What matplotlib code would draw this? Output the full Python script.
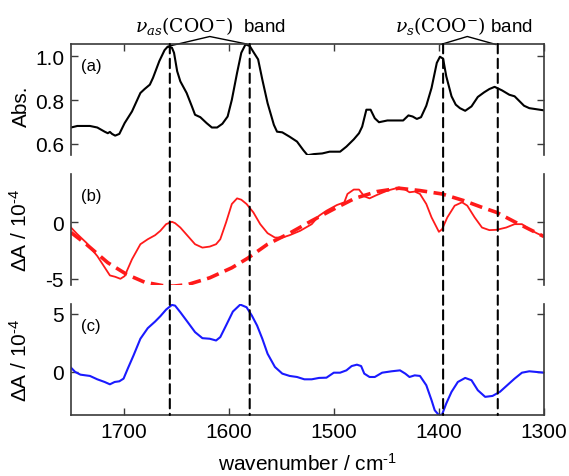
import matplotlib
matplotlib.use("Agg")
import matplotlib.pyplot as plt
from matplotlib.patches import ConnectionPatch

plt.rcParams['font.family'] = ['Liberation Sans', 'DejaVu Sans']
plt.rcParams['mathtext.fontset'] = 'custom'
plt.rcParams['mathtext.rm'] = 'Liberation Sans'
plt.rcParams['mathtext.it'] = 'Liberation Sans:italic'
plt.rcParams['mathtext.bf'] = 'Liberation Sans:bold'

# (a) absorbance spectrum
wn_a = [1750, 1744, 1732, 1725, 1718, 1715, 1713, 1711, 1708, 1704, 1699, 1692, 1684, 1680,
        1675, 1672, 1666, 1661, 1658, 1654, 1652, 1649, 1646, 1640, 1635, 1632, 1627, 1621,
        1616, 1611, 1606, 1601, 1597, 1592, 1588, 1584, 1580, 1576, 1572, 1568, 1563, 1557,
        1554, 1549, 1542, 1535, 1529, 1525, 1519, 1511, 1504, 1499, 1494, 1488, 1481, 1476,
        1473, 1469, 1465, 1461, 1457, 1449, 1438, 1434, 1429, 1425, 1421, 1417, 1412, 1407,
        1402, 1399, 1396, 1393, 1388, 1384, 1380, 1375, 1369, 1363, 1357, 1352, 1347, 1340,
        1333, 1328, 1319, 1314, 1300]
abs_a = [0.675, 0.682, 0.682, 0.675, 0.656, 0.649, 0.655, 0.646, 0.638, 0.646, 0.695, 0.748,
         0.832, 0.850, 0.870, 0.901, 0.977, 1.027, 1.043, 1.038, 1.015, 0.931, 0.885, 0.832,
         0.771, 0.733, 0.722, 0.695, 0.675, 0.675, 0.692, 0.725, 0.801, 0.924, 1.015, 1.053,
         1.046, 1.015, 0.985, 0.893, 0.786, 0.687, 0.656, 0.653, 0.633, 0.611, 0.572, 0.549,
         0.554, 0.557, 0.565, 0.565, 0.565, 0.588, 0.621, 0.649, 0.679, 0.756, 0.756, 0.717,
         0.699, 0.707, 0.707, 0.707, 0.730, 0.725, 0.714, 0.722, 0.774, 0.855, 0.969, 0.997,
         0.988, 0.908, 0.817, 0.779, 0.763, 0.751, 0.771, 0.814, 0.835, 0.850, 0.860, 0.844,
         0.824, 0.817, 0.774, 0.763, 0.753]

# (b) difference spectrum and its broad baseline
wn_b = [1750, 1744, 1735.5, 1725, 1713, 1708, 1703, 1699, 1692, 1684, 1677, 1670, 1665,
        1659.5, 1654, 1651, 1646, 1639, 1632, 1625, 1618, 1612, 1608, 1602.5, 1597, 1592,
        1588, 1583, 1576.5, 1570, 1563, 1556, 1549, 1542, 1532, 1521, 1514, 1507, 1497, 1490,
        1487, 1481, 1476, 1471, 1466, 1459, 1449, 1438, 1433, 1428, 1423, 1418, 1412, 1407,
        1400, 1397, 1392, 1385, 1378, 1373, 1366, 1359, 1352, 1345, 1336, 1328, 1321, 1314,
        1307, 1300]
dA_b = [-0.45, -1.04, -1.79, -2.98, -4.70, -4.82, -5.0, -4.76, -3.27, -1.93, -1.49, -1.13,
        -0.74, -0.15, 0.06, -0.06, -0.45, -1.19, -1.93, -2.23, -2.14, -1.93, -1.49, 0.0, 1.64,
        2.14, 2.02, 1.64, 0.89, -0.15, -0.95, -1.34, -1.34, -1.13, -0.74, -0.15, 0.60, 1.04,
        1.55, 1.79, 2.53, 2.92, 2.92, 2.32, 2.14, 2.44, 2.83, 3.10, 2.98, 2.68, 2.74, 2.53,
        1.64, 0.45, -0.83, -0.60, 0.45, 1.49, 1.79, 1.49, 0.45, -0.45, -0.68, -0.65, -0.45,
        -0.15, -0.15, -0.60, -0.95, -1.25]
wn_base = [1750, 1735.5, 1715, 1697, 1680, 1663, 1652.5, 1639, 1618, 1597, 1582, 1563, 1542,
           1521, 1500, 1480, 1459, 1438, 1418, 1397, 1376, 1359, 1345, 1328, 1314, 1300]
dA_base = [-0.89, -1.93, -3.57, -4.61, -5.30, -5.60, -5.65, -5.51, -4.91, -4.02, -3.18,
           -1.93, -0.95, 0.15, 1.19, 2.14, 2.74, 3.04, 2.83, 2.53, 1.93, 1.34, 0.89, 0.06,
           -0.60, -1.25]

# (c) baseline-corrected difference spectrum
wn_c = [1750, 1746, 1741, 1732, 1725, 1718, 1713, 1708.5, 1704, 1700, 1696, 1690.5, 1684,
        1677, 1670, 1665, 1659.5, 1654, 1651, 1646, 1639, 1632, 1625, 1618, 1612, 1608,
        1602.5, 1596, 1589, 1583, 1578, 1573, 1568, 1563, 1556, 1549, 1542, 1535, 1528, 1521,
        1514, 1507, 1500, 1494, 1488, 1483, 1478, 1474, 1471, 1466, 1461, 1454, 1445, 1437,
        1432, 1428, 1423, 1418, 1412, 1407, 1404, 1400, 1397, 1393, 1388, 1382, 1375, 1369,
        1363, 1356, 1349, 1342, 1335, 1328, 1321, 1314, 1307, 1300]
dA_c = [0.37, 0.0, -0.23, -0.34, -0.63, -0.86, -1.06, -0.86, -0.80, -0.57, 0.29, 1.43, 2.86,
        3.77, 4.34, 4.80, 5.37, 5.77, 5.71, 5.14, 4.29, 3.43, 2.91, 2.86, 2.71, 3.0, 4.0, 5.2,
        5.8, 5.57, 4.86, 4.0, 2.86, 1.57, 0.43, -0.14, -0.34, -0.43, -0.63, -0.63, -0.51,
        -0.49, -0.06, -0.06, 0.14, 0.51, 0.63, 0.51, -0.14, -0.43, -0.43, -0.06, 0.06, 0.14,
        -0.14, -0.43, -0.29, -0.34, -1.14, -2.43, -3.29, -3.71, -3.66, -2.71, -1.71, -0.86,
        -0.51, -0.71, -1.57, -2.14, -2.06, -1.71, -1.14, -0.57, -0.06, 0.06, 0.0, -0.06]

# band positions marked across all panels
band_lines = [1656, 1580, 1396, 1344]
x_ticks = [1700, 1600, 1500, 1400, 1300]

fig = plt.figure(figsize=(5.69, 4.77), dpi=100)
L, W, H = 0.1248, 0.8313, 0.2327
axA = fig.add_axes([L, 0.673, W, H])
axB = fig.add_axes([L, 0.4004, W, H])
axC = fig.add_axes([L, 0.1279, W, H])

spine_col = '#3a3a3a'
for ax in (axA, axB, axC):
    ax.set_xlim(1750, 1300)
    ax.set_xticks(x_ticks)
    for s in ax.spines.values():
        s.set_color(spine_col)
        s.set_linewidth(1.2)
    ax.tick_params(direction='in', length=5, width=1.0, color=spine_col,
                   labelsize=15, left=True, right=True, pad=5)

axA.spines['bottom'].set_visible(False)
axB.spines['bottom'].set_visible(False)
axB.spines['top'].set_visible(False)
axC.spines['top'].set_visible(False)
axA.tick_params(top=True, bottom=False, labelbottom=False)
axB.tick_params(top=False, bottom=False, labelbottom=False)
axC.tick_params(top=False, bottom=True, labelbottom=True)

axA.plot(wn_a, abs_a, color='black', lw=1.5)
axA.set_ylim(0.55, 1.055)
axA.set_yticks([0.6, 0.8, 1.0])
axA.set_yticklabels(['0.6', '0.8', '1.0'])

axB.plot(wn_b, dA_b, color='#ff1a1a', lw=1.3)
axB.plot(wn_base, dA_base, color='#ff1a1a', lw=2.6, dashes=(3.5, 1.8))
axB.set_ylim(-5.55, 4.3)
axB.set_yticks([-5, 0])
axB.set_yticklabels(['-5', '0'])

axC.plot(wn_c, dA_c, color='#1a1aff', lw=1.5)
axC.set_ylim(-3.7, 5.85)
axC.set_yticks([0, 5])

axC.set_xlabel(r'wavenumber / cm$^{\text{-}1}$', fontsize=15, labelpad=8)

ylab_kw = dict(rotation=90, ha='center', va='center', fontsize=15)
axA.text(-0.105, 0.45, 'Abs.', transform=axA.transAxes, **ylab_kw)
axB.text(-0.108, 0.5, r'$\Delta$A / 10$^{\text{-}4}$', transform=axB.transAxes, **ylab_kw)
axC.text(-0.108, 0.5, r'$\Delta$A / 10$^{\text{-}4}$', transform=axC.transAxes, **ylab_kw)

for ax, lab in ((axA, '(a)'), (axB, '(b)'), (axC, '(c)')):
    ax.text(0.022, 0.81, lab, transform=ax.transAxes, ha='left', va='center', fontsize=12)

# dashed band markers spanning from panel (a) top to panel (c) bottom
for x in band_lines:
    con = ConnectionPatch(xyA=(x, axA.get_ylim()[1]), coordsA=axA.transData,
                          xyB=(x, axC.get_ylim()[0]), coordsB=axC.transData,
                          color='black', lw=1.5, linestyle=(0, (4.5, 2.6)))
    fig.add_artist(con)

# band brackets above panel (a)
apex_y = 1.089
axA.plot([1657, 1618, 1583], [1.045, apex_y, 1.055], color='black', lw=1.0, clip_on=False)
axA.plot([1398, 1373, 1346], [1.053, apex_y, 1.053], color='black', lw=1.0, clip_on=False)

txt_y = 1.142
axA.text(1617, txt_y, r'$\nu_{as}(\mathrm{COO}^{-})$  band', ha='center', va='center',
         fontsize=13.5, clip_on=False, math_fontfamily='dejavuserif')
axA.text(1376, txt_y, r'$\nu_{s}(\mathrm{COO}^{-})$ band', ha='center', va='center',
         fontsize=13.5, clip_on=False, math_fontfamily='dejavuserif')

fig.savefig('out.png', dpi=100)
